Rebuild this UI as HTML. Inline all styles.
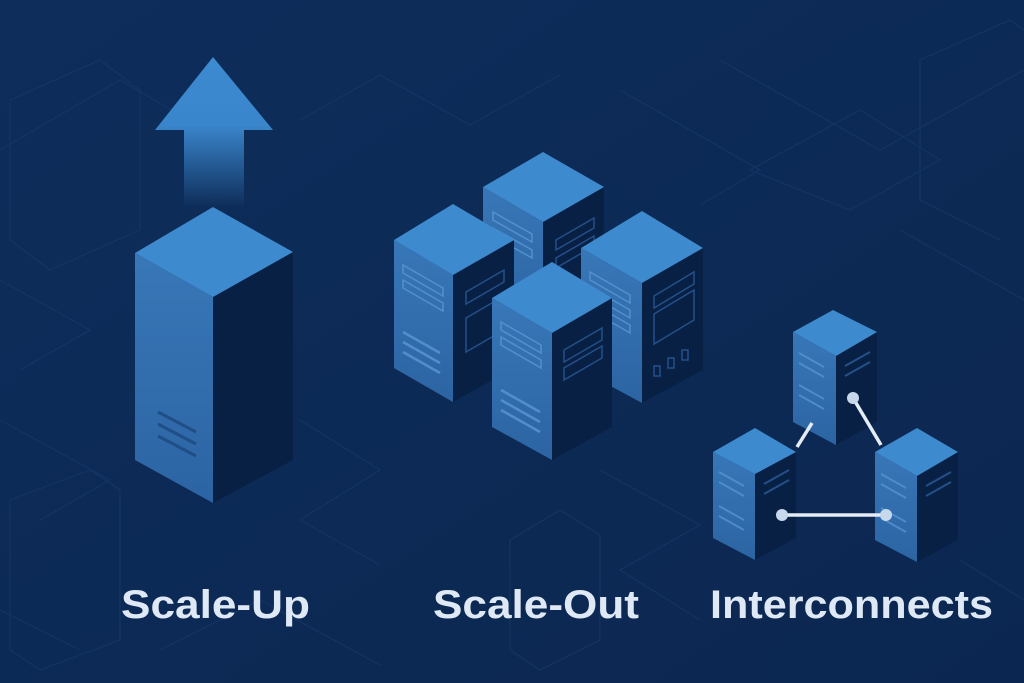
<!DOCTYPE html>
<html><head><meta charset="utf-8"><style>
html,body{margin:0;padding:0;background:#0b2a55;}
svg{display:block}
</style></head><body>
<svg width="1024" height="683" viewBox="0 0 1024 683" xmlns="http://www.w3.org/2000/svg">
<defs>
<linearGradient id="bg" x1="0" y1="0" x2="1" y2="1">
<stop offset="0" stop-color="#0e2d5a"/><stop offset="1" stop-color="#0b2751"/>
</linearGradient>
<linearGradient id="arr" x1="0" y1="0" x2="0" y2="1">
<stop offset="0" stop-color="#3d8ad0"/><stop offset="0.45" stop-color="#3a86cc"/><stop offset="1" stop-color="#3a86cc" stop-opacity="0"/>
</linearGradient>
<linearGradient id="lf" x1="0" y1="0" x2="0" y2="1">
<stop offset="0" stop-color="#3877b8"/><stop offset="1" stop-color="#2c64a3"/>
</linearGradient>
</defs>
<rect width="1024" height="683" fill="url(#bg)"/>
<g stroke="#1a4274" stroke-width="1.2" fill="none" opacity="0.45">
<path d="M0 150 L120 80 L180 115"/>
<path d="M0 280 L90 330 L20 370"/>
<path d="M300 120 L380 75 L470 125 L560 75"/>
<path d="M620 90 L760 170 L700 205"/>
<path d="M720 60 L880 150 L1024 70"/>
<path d="M900 230 L1024 300"/>
<path d="M0 420 L110 480 L40 520"/>
<path d="M300 420 L380 470 L300 520 L380 565"/>
<path d="M600 470 L700 525 L620 570 L700 620"/>
<path d="M960 560 L1024 600"/>
<path d="M0 610 L80 650"/>
<path d="M160 650 L260 600 L380 665"/>
<path d="M750 170 L860 110 L940 160 L850 210 Z"/>
<path d="M10 100 L100 60 L140 90 L140 230 L50 270 L10 240 Z"/>
<path d="M920 60 L1010 20 L1024 30"/>
<path d="M920 60 L920 200 L1000 240"/>
<path d="M10 500 L90 470 L120 490 L120 640 L40 670 L10 650 Z"/>
<path d="M510 540 L560 510 L600 535 L600 640 L540 670 L510 650 Z"/>
</g>
<!-- Arrow -->
<polygon points="213,57 273,130 244,130 244,208 184,208 184,130 155,130" fill="url(#arr)"/>
<!-- Scale-Up box -->
<polygon points="135,253 213,297 213,503 135,460" fill="url(#lf)"/>
<polygon points="213,297 293,252 293,460 213,503" fill="#092045"/>
<polygon points="213,207 293,252 213,297 135,253" fill="#3d8ace"/>
<g stroke="#1f4f86" stroke-width="3">
<line x1="158" y1="412" x2="196" y2="432"/><line x1="158" y1="424" x2="196" y2="444"/><line x1="158" y1="436" x2="196" y2="456"/>
</g>

<!-- back server -->
<g>
<polygon points="483,187 543,222 543,320 483,288" fill="url(#lf)"/>
<polygon points="543,222 604,187 604,288 543,320" fill="#092045"/>
<polygon points="543,152 604,187 543,222 483,187" fill="#3d8ace"/>
<g stroke="#5a98d4" stroke-width="1.5" fill="none" opacity="0.8">
<polygon points="493,212 532,234 532,242 493,220"/><polygon points="493,228 532,250 532,258 493,236"/>
</g>
<g stroke="#24508a" stroke-width="1.5" fill="none"><polygon points="556,240 594,218 594,228 556,250"/><polygon points="556,258 594,236 594,246 556,268"/></g>
</g>
<!-- left server -->
<g>
<polygon points="394,240 453,275 453,402 394,368" fill="url(#lf)"/>
<polygon points="453,275 514,240 514,368 453,402" fill="#092045"/>
<polygon points="453,204 514,240 453,275 394,240" fill="#3d8ace"/>
<g stroke="#5a98d4" stroke-width="1.5" fill="none" opacity="0.8">
<polygon points="403,265 443,288 443,296 403,273"/><polygon points="403,280 443,303 443,311 403,288"/>
</g>
<g stroke="#5a98d4" stroke-width="2.5" opacity="0.8"><line x1="403" y1="332" x2="440" y2="353"/><line x1="403" y1="342" x2="440" y2="363"/><line x1="403" y1="352" x2="440" y2="373"/></g>
<g stroke="#24508a" stroke-width="1.5" fill="none"><polygon points="466,292 504,270 504,282 466,304"/><polygon points="466,318 504,296 504,330 466,352"/></g>
</g>
<!-- right server -->
<g>
<polygon points="581,248 642,283 642,403 581,370" fill="url(#lf)"/>
<polygon points="642,283 703,248 703,370 642,403" fill="#092045"/>
<polygon points="642,211 703,248 642,283 581,248" fill="#3d8ace"/>
<g stroke="#5a98d4" stroke-width="1.5" fill="none" opacity="0.8">
<polygon points="590,272 630,295 630,303 590,280"/><polygon points="590,287 630,310 630,318 590,295"/><polygon points="590,302 630,325 630,333 590,310"/>
</g>
<g stroke="#24508a" stroke-width="1.5" fill="none"><polygon points="654,296 694,272 694,284 654,308"/><polygon points="654,314 694,290 694,320 654,344"/>
<rect x="654" y="366" width="6" height="10"/><rect x="668" y="358" width="6" height="10"/><rect x="682" y="350" width="6" height="10"/></g>
</g>
<!-- front server -->
<g>
<polygon points="492,298 552,333 552,460 492,427" fill="url(#lf)"/>
<polygon points="552,333 612,298 612,427 552,460" fill="#092045"/>
<polygon points="552,262 612,298 552,333 492,298" fill="#3d8ace"/>
<g stroke="#5a98d4" stroke-width="1.5" fill="none" opacity="0.8">
<polygon points="501,322 541,345 541,353 501,330"/><polygon points="501,337 541,360 541,368 501,345"/>
</g>
<g stroke="#5a98d4" stroke-width="2.5" opacity="0.8"><line x1="501" y1="390" x2="540" y2="412"/><line x1="501" y1="400" x2="540" y2="422"/><line x1="501" y1="410" x2="540" y2="432"/></g>
<g stroke="#24508a" stroke-width="1.5" fill="none"><polygon points="564,350 602,328 602,340 564,362"/><polygon points="564,368 602,346 602,358 564,380"/></g>
</g>

<!-- Interconnects -->
<g>
<polygon points="793,332 836,356 836,445 793,422" fill="url(#lf)"/>
<polygon points="836,356 877,332 877,422 836,445" fill="#092045"/>
<polygon points="833,310 877,332 836,356 793,332" fill="#3d8ace"/>
<g stroke="#5a98d4" stroke-width="2" opacity="0.7"><line x1="799" y1="353" x2="824" y2="367"/><line x1="799" y1="363" x2="824" y2="377"/><line x1="799" y1="385" x2="824" y2="399"/><line x1="799" y1="395" x2="824" y2="409"/></g>
<g stroke="#24508a" stroke-width="2"><line x1="845" y1="366" x2="870" y2="352"/><line x1="845" y1="376" x2="870" y2="362"/></g>
</g>
<g>
<polygon points="713,452 755,474 755,560 713,538" fill="url(#lf)"/>
<polygon points="755,474 796,452 796,538 755,560" fill="#092045"/>
<polygon points="755,428 796,452 755,474 713,452" fill="#3d8ace"/>
<g stroke="#5a98d4" stroke-width="2" opacity="0.7"><line x1="719" y1="472" x2="744" y2="486"/><line x1="719" y1="482" x2="744" y2="496"/><line x1="719" y1="506" x2="744" y2="520"/><line x1="719" y1="516" x2="744" y2="530"/></g>
<g stroke="#24508a" stroke-width="2"><line x1="764" y1="484" x2="789" y2="470"/><line x1="764" y1="494" x2="789" y2="480"/></g>
</g>
<g>
<polygon points="875,452 917,476 917,562 875,540" fill="url(#lf)"/>
<polygon points="917,476 958,452 958,540 917,562" fill="#092045"/>
<polygon points="917,428 958,452 917,476 875,452" fill="#3d8ace"/>
<g stroke="#5a98d4" stroke-width="2" opacity="0.7"><line x1="881" y1="474" x2="906" y2="488"/><line x1="881" y1="484" x2="906" y2="498"/><line x1="881" y1="508" x2="906" y2="522"/><line x1="881" y1="518" x2="906" y2="532"/></g>
<g stroke="#24508a" stroke-width="2"><line x1="926" y1="486" x2="951" y2="472"/><line x1="926" y1="496" x2="951" y2="482"/></g>
</g>
<g stroke="#e4ecf6" stroke-width="3.5" fill="#c8d8ec">
<line x1="797" y1="447" x2="812" y2="423"/>
<line x1="853" y1="398" x2="881" y2="445"/>
<line x1="782" y1="515" x2="886" y2="515"/>
</g>
<g fill="#c8d8ec"><circle cx="853" cy="398" r="6"/><circle cx="782" cy="515" r="6"/><circle cx="886" cy="515" r="6"/></g>

<g font-family="Liberation Sans, sans-serif" font-weight="bold" font-size="40" fill="#dfe8f5">
<text x="121" y="618" textLength="189" lengthAdjust="spacingAndGlyphs">Scale-Up</text>
<text x="433" y="618" textLength="206" lengthAdjust="spacingAndGlyphs">Scale-Out</text>
<text x="710" y="618" textLength="283" lengthAdjust="spacingAndGlyphs">Interconnects</text>
</g>
</svg>
</body></html>
